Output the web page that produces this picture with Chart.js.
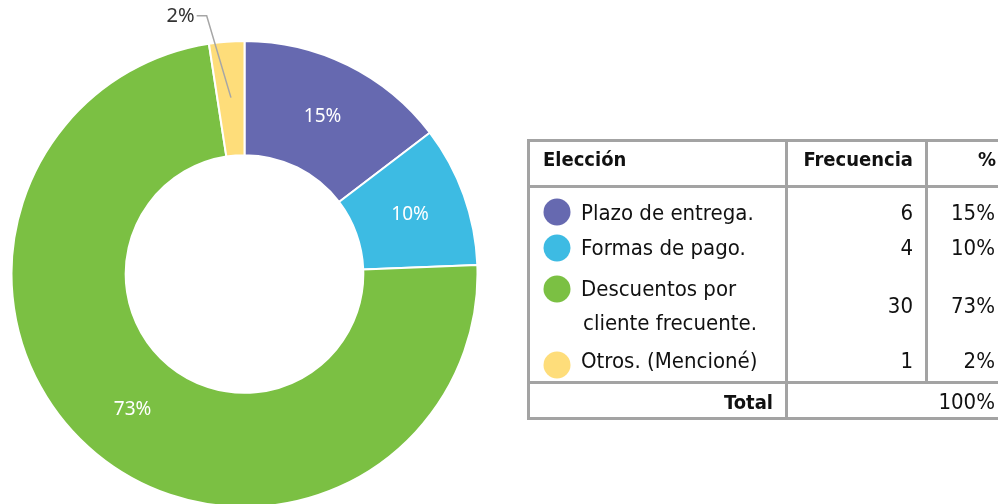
<!DOCTYPE html>
<html>
<head>
<meta charset="utf-8">
<script src="https://cdn.jsdelivr.net/npm/chart.js@4.4.0/dist/chart.umd.min.js"></script>
<style>
  body { margin: 0; background: #fff; width: 998px; height: 504px; overflow: hidden; position: relative; }
  #wrap { position: absolute; left: 10px; top: 0px; width: 469px; height: 508px; }
  #table { position: absolute; left: 0; top: 0; width: 998px; height: 504px; font-family: "DejaVu Sans Condensed", "Liberation Sans Narrow", "DejaVu Sans", sans-serif; color: #111; font-size: 22px; }
  .ln { position: absolute; background: #a3a3a3; }
  .t { position: absolute; line-height: 1; white-space: nowrap; transform: translateY(-50%); }
  .b { font-weight: bold; font-size: 20px; }
  .r { text-align: right; }
  .dot { position: absolute; width: 27px; height: 27px; border-radius: 50%; transform: translate(-50%, -50%); }
</style>
</head>
<body>
<div id="wrap"><canvas id="chart"></canvas></div>
<div id="table"></div>
<script>
const categories = ["Plazo de entrega.", "Formas de pago.", "Descuentos por\ncliente frecuente.", "Otros. (Mencioné)"];
const frecuencia = [6, 4, 30, 1];
const porcentajes = [15, 10, 73, 2];
const colores = ["#6669b0", "#3dbbe3", "#7bc043", "#fedd7a"];

const labelPlugin = {
  id: 'sliceLabels',
  afterDatasetsDraw(chart) {
    const ctx = chart.ctx;
    const arcs = chart.getDatasetMeta(0).data;
    ctx.save();
    ctx.textAlign = 'center';
    ctx.textBaseline = 'middle';
    arcs.forEach((arc, i) => {
      const mid = (arc.startAngle + arc.endAngle) / 2;
      const rMid = (arc.innerRadius + arc.outerRadius) / 2;
      const txt = porcentajes[i] + '%';
      if (porcentajes[i] >= 5) {
        ctx.font = '19px "Noto Sans", "Open Sans", sans-serif';
        ctx.fillStyle = '#ffffff';
        ctx.fillText(txt, arc.x + Math.cos(mid) * rMid, arc.y + Math.sin(mid) * rMid);
      } else {
        // leader line to outside label
        const x1 = arc.x + Math.cos(mid) * (rMid + 1);
        const y1 = arc.y + Math.sin(mid) * (rMid + 1);
        const rOut = arc.outerRadius + 26;
        const x2 = arc.x + Math.cos(mid) * rOut - 18;
        const y2 = arc.y + Math.sin(mid) * rOut;
        ctx.strokeStyle = '#a6a6a6';
        ctx.lineWidth = 1.5;
        ctx.beginPath();
        ctx.moveTo(x1, y1);
        ctx.lineTo(x2, y2);
        ctx.lineTo(x2 - 10, y2);
        ctx.stroke();
        ctx.font = '20px "Noto Sans", "Open Sans", sans-serif';
        ctx.fillStyle = '#333333';
        ctx.textAlign = 'right';
        ctx.fillText(txt, x2 - 12, y2 + 1);
        ctx.textAlign = 'center';
      }
    });
    ctx.restore();
  }
};

new Chart(document.getElementById('chart'), {
  type: 'doughnut',
  data: {
    labels: categories,
    datasets: [{
      data: frecuencia,
      backgroundColor: colores,
      borderColor: '#ffffff',
      borderWidth: 2
    }]
  },
  options: {
    responsive: true,
    maintainAspectRatio: false,
    animation: false,
    cutout: '51%',
    layout: { padding: { top: 40 } },
    plugins: { legend: { display: false }, tooltip: { enabled: false } }
  },
  plugins: [labelPlugin]
});

// table (legend)
const tbl = document.getElementById('table');
function add(html) { tbl.insertAdjacentHTML('beforeend', html); }
function line(x, y, w, h) { add(`<div class="ln" style="left:${x}px;top:${y}px;width:${w}px;height:${h}px"></div>`); }
line(527, 139, 480, 3);
line(527, 417, 480, 3);
line(527, 139, 3, 281);
line(527, 185, 480, 3);
line(527, 381, 480, 3);
line(785, 139, 3, 281);
line(925, 139, 3, 244);

function text(str, x, y, cls, right) {
  if (right) add(`<div class="t ${cls} r" style="right:${998 - x}px;top:${y}px">${str}</div>`);
  else add(`<div class="t ${cls}" style="left:${x}px;top:${y}px">${str}</div>`);
}
text('Elección', 543, 159, 'b');
text('Frecuencia', 913, 159, 'b', true);
text('%', 996, 159, 'b', true);

const rowY = [213, 248, 306, 361];
const dotY = [212, 248, 289, 365];
categories.forEach((c, i) => {
  add(`<div class="dot" style="left:557px;top:${dotY[i]}px;background:${colores[i]}"></div>`);
  const parts = c.split('\n');
  if (parts.length > 1) {
    text(parts[0], 581, 289, '');
    text(parts[1], 583, 323, '');
  } else {
    text(c, 581, rowY[i], '');
  }
  text(String(frecuencia[i]), 913, rowY[i], '', true);
  text(porcentajes[i] + '%', 995, rowY[i], '', true);
});
text('Total', 773, 402, 'b', true);
text('100%', 995, 402, '', true);
</script>
</body>
</html>
